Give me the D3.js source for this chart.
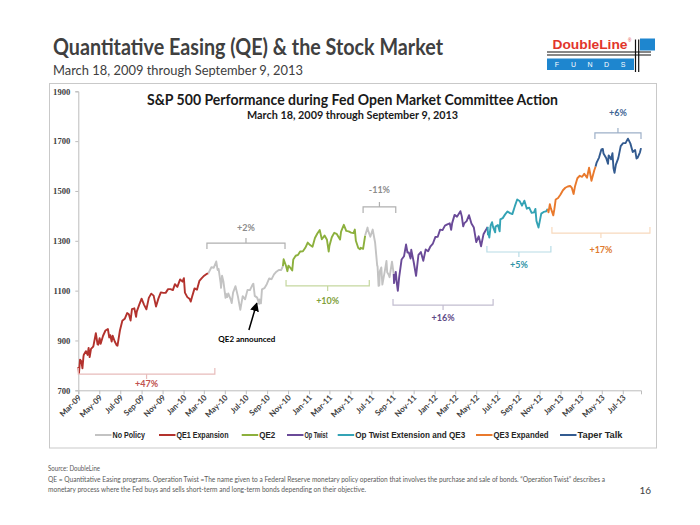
<!DOCTYPE html>
<html><head><meta charset="utf-8">
<script src="https://cdn.jsdelivr.net/npm/d3@7"></script>
<style>body{margin:0;background:#fff}svg{display:block}</style>
</head><body>
<svg id="c" width="700" height="525"></svg>
<script>
// ---------- DATA ----------
const seriesNames = ["No Policy","QE1 Expansion","QE2","Op Twist","Op Twist Extension and QE3","QE3 Expanded","Taper Talk"];
const seriesColors = ["#c3c3c3","#b3322d","#8cb03d","#6a4a98","#34a3b5","#e9792c","#335b90"];
const yTicks = [700,900,1100,1300,1500,1700,1900];
const xTickLabels = ["Mar-09","May-09","Jul-09","Sep-09","Nov-09","Jan-10","Mar-10","May-10","Jul-10","Sep-10","Nov-10","Jan-11","Mar-11","May-11","Jul-11","Sep-11","Nov-11","Jan-12","Mar-12","May-12","Jul-12","Sep-12","Nov-12","Jan-13","Mar-13","May-13","Jul-13"];

const qe1 = [["2009-03-18",794],["2009-03-20",769],["2009-03-23",823],["2009-03-27",816],["2009-03-30",788],["2009-04-02",835],["2009-04-03",843],["2009-04-09",857],["2009-04-14",842],["2009-04-17",870],["2009-04-20",833],["2009-04-24",866],["2009-04-29",873],["2009-05-01",878],["2009-05-08",929],["2009-05-13",884],["2009-05-15",883],["2009-05-19",909],["2009-05-22",887],["2009-05-29",919],["2009-06-05",940],["2009-06-12",946],["2009-06-16",912],["2009-06-19",921],["2009-06-23",896],["2009-06-26",919],["2009-07-02",896],["2009-07-08",880],["2009-07-10",879],["2009-07-17",940],["2009-07-24",979],["2009-07-31",987],["2009-08-07",1010],["2009-08-12",1005],["2009-08-17",980],["2009-08-21",1026],["2009-08-28",1029],["2009-09-02",995],["2009-09-04",1016],["2009-09-11",1043],["2009-09-18",1068],["2009-09-25",1044],["2009-10-02",1025],["2009-10-09",1071],["2009-10-16",1088],["2009-10-23",1080],["2009-10-30",1036],["2009-11-06",1069],["2009-11-13",1093],["2009-11-20",1091],["2009-11-27",1091],["2009-12-04",1106],["2009-12-11",1106],["2009-12-18",1102],["2009-12-24",1126],["2009-12-31",1115],["2010-01-08",1145],["2010-01-15",1136],["2010-01-19",1150],["2010-01-22",1092],["2010-01-29",1074],["2010-02-05",1066],["2010-02-08",1056],["2010-02-12",1076],["2010-02-19",1109],["2010-02-26",1104],["2010-03-05",1139],["2010-03-12",1150],["2010-03-19",1160],["2010-03-26",1167],["2010-03-31",1169]];
const noPolicy1 = [["2010-03-31",1169],["2010-04-09",1194],["2010-04-16",1192],["2010-04-23",1217],["2010-04-27",1183],["2010-04-30",1187],["2010-05-06",1128],["2010-05-07",1111],["2010-05-10",1160],["2010-05-14",1136],["2010-05-20",1071],["2010-05-21",1088],["2010-05-25",1074],["2010-05-28",1089],["2010-06-04",1065],["2010-06-07",1050],["2010-06-11",1092],["2010-06-18",1118],["2010-06-25",1077],["2010-07-02",1023],["2010-07-09",1078],["2010-07-16",1065],["2010-07-23",1103],["2010-07-30",1102],["2010-08-06",1122],["2010-08-09",1128],["2010-08-13",1079],["2010-08-20",1072],["2010-08-26",1047],["2010-08-27",1065],["2010-08-31",1049],["2010-09-03",1105],["2010-09-10",1110],["2010-09-17",1126],["2010-09-24",1149],["2010-10-01",1146],["2010-10-08",1165],["2010-10-15",1176],["2010-10-22",1183],["2010-10-29",1183],["2010-11-03",1198]];
const qe2 = [["2010-11-03",1198],["2010-11-05",1226],["2010-11-12",1199],["2010-11-16",1178],["2010-11-19",1200],["2010-11-26",1189],["2010-11-30",1181],["2010-12-03",1225],["2010-12-10",1240],["2010-12-17",1244],["2010-12-23",1257],["2010-12-31",1258],["2011-01-07",1272],["2011-01-14",1293],["2011-01-21",1283],["2011-01-28",1276],["2011-02-04",1311],["2011-02-11",1329],["2011-02-18",1343],["2011-02-24",1306],["2011-03-04",1321],["2011-03-11",1304],["2011-03-16",1257],["2011-03-18",1279],["2011-03-25",1314],["2011-04-01",1332],["2011-04-08",1328],["2011-04-18",1305],["2011-04-21",1337],["2011-04-29",1364],["2011-05-06",1340],["2011-05-13",1338],["2011-05-20",1333],["2011-05-27",1331],["2011-05-31",1345],["2011-06-03",1300],["2011-06-10",1271],["2011-06-15",1266],["2011-06-17",1272],["2011-06-24",1268],["2011-06-30",1321]];
const noPolicy2 = [["2011-06-30",1321],["2011-07-07",1353],["2011-07-08",1344],["2011-07-15",1316],["2011-07-22",1345],["2011-07-29",1292],["2011-08-04",1200],["2011-08-05",1199],["2011-08-08",1119],["2011-08-09",1172],["2011-08-10",1121],["2011-08-12",1179],["2011-08-16",1193],["2011-08-19",1124],["2011-08-26",1177],["2011-08-31",1219],["2011-09-02",1174],["2011-09-06",1165],["2011-09-09",1154],["2011-09-16",1216],["2011-09-21",1167]];
const opTwist = [["2011-09-21",1167],["2011-09-22",1130],["2011-09-27",1175],["2011-09-30",1131],["2011-10-03",1099],["2011-10-07",1155],["2011-10-14",1225],["2011-10-21",1238],["2011-10-27",1285],["2011-10-31",1253],["2011-11-04",1253],["2011-11-09",1229],["2011-11-11",1264],["2011-11-18",1216],["2011-11-25",1159],["2011-12-02",1244],["2011-12-09",1255],["2011-12-16",1220],["2011-12-23",1265],["2011-12-30",1258],["2012-01-06",1278],["2012-01-13",1289],["2012-01-20",1315],["2012-01-27",1316],["2012-02-03",1345],["2012-02-10",1343],["2012-02-17",1361],["2012-02-24",1366],["2012-03-02",1370],["2012-03-06",1344],["2012-03-09",1371],["2012-03-16",1404],["2012-03-23",1397],["2012-04-02",1419],["2012-04-06",1398],["2012-04-10",1358],["2012-04-13",1370],["2012-04-20",1379],["2012-04-27",1403],["2012-05-04",1369],["2012-05-11",1353],["2012-05-18",1295],["2012-05-25",1318],["2012-06-01",1278],["2012-06-08",1326],["2012-06-15",1343],["2012-06-20",1356]];
const opTwistExt = [["2012-06-20",1356],["2012-06-21",1325],["2012-06-22",1335],["2012-06-25",1313],["2012-06-29",1362],["2012-07-03",1375],["2012-07-06",1355],["2012-07-12",1334],["2012-07-13",1357],["2012-07-20",1363],["2012-07-25",1338],["2012-07-27",1386],["2012-08-03",1391],["2012-08-10",1406],["2012-08-17",1418],["2012-08-24",1411],["2012-08-31",1407],["2012-09-07",1438],["2012-09-14",1466],["2012-09-21",1460],["2012-09-28",1441],["2012-10-05",1461],["2012-10-12",1429],["2012-10-19",1433],["2012-10-26",1412],["2012-11-02",1414],["2012-11-06",1428],["2012-11-09",1380],["2012-11-15",1353],["2012-11-16",1360],["2012-11-23",1409],["2012-11-30",1416],["2012-12-07",1418],["2012-12-12",1428]];
const qe3Expanded = [["2012-12-12",1428],["2012-12-14",1414],["2012-12-18",1447],["2012-12-21",1430],["2012-12-28",1402],["2012-12-31",1426],["2013-01-04",1466],["2013-01-11",1472],["2013-01-18",1486],["2013-01-25",1503],["2013-02-01",1513],["2013-02-08",1518],["2013-02-15",1520],["2013-02-20",1512],["2013-02-25",1488],["2013-03-01",1518],["2013-03-08",1551],["2013-03-15",1561],["2013-03-22",1557],["2013-03-28",1569],["2013-04-05",1553],["2013-04-11",1593],["2013-04-18",1541],["2013-04-26",1582],["2013-04-30",1598]];
const taperTalk = [["2013-04-30",1598],["2013-05-03",1614],["2013-05-10",1634],["2013-05-17",1667],["2013-05-21",1669],["2013-05-23",1650],["2013-05-31",1631],["2013-06-05",1609],["2013-06-07",1643],["2013-06-14",1627],["2013-06-18",1652],["2013-06-21",1592],["2013-06-24",1573],["2013-06-28",1606],["2013-07-05",1632],["2013-07-12",1680],["2013-07-19",1692],["2013-07-26",1692],["2013-08-02",1710],["2013-08-09",1691],["2013-08-16",1656],["2013-08-23",1664],["2013-08-27",1630],["2013-08-30",1633],["2013-09-06",1655],["2013-09-09",1672]];

// segments: [data, series index]
const segments = [[qe1,1],[noPolicy1,0],[qe2,2],[noPolicy2,0],[opTwist,3],[opTwistExt,4],[qe3Expanded,5],[taperTalk,6]];

// period brackets: start, end, level (index value), label value, label, line colour, text colour, arm direction (+1 arms down)
const brackets = [
  ["2009-03-18","2010-04-19",765,727,"+47%","#e8bcbb","#c0504d",-1],
  ["2010-03-27","2010-11-09",1291,1351,"+2%","#b0b0b0","#8c8c8c",1],
  ["2010-11-12","2011-07-12",1119,1058,"+10%","#c5d79f","#7f9f3a",-1],
  ["2011-06-24","2011-09-27",1436,1504,"-11%","#b0b0b0","#8c8c8c",1],
  ["2011-09-19","2012-07-06",1042,990,"+16%","#c2bdd0","#5f4b87",-1],
  ["2012-06-18","2012-12-21",1255,1203,"+5%","#b8dce6","#2f93a6",-1],
  ["2012-12-24","2013-10-05",1331,1263,"+17%","#f8d9bd","#e07a2e",-1],
  ["2013-04-28","2013-09-09",1733,1813,"+6%","#9db0c8","#3f6595",1]
];
const arrowNote = {from:["2010-07-27",942], to:["2010-08-19",1050], label:"QE2 announced", labelAt:["2010-07-21",905]};

// ---------- DRAW ----------
const svg = d3.select("#c");
const parse = d3.timeParse("%Y-%m-%d");
const x = d3.scaleTime().domain([new Date(2009,2,18), new Date(2013,8,9)]).range([78.3, 641]);
const y = d3.scaleLinear().domain([700,1900]).range([390.3, 91.3]);
const sans = "Lato, 'Open Sans', sans-serif";

// header
svg.append("text").attr("x",53).attr("y",55).attr("font-family",sans).attr("font-weight",700)
  .attr("font-size",22).attr("fill","#404040").attr("textLength",390).attr("lengthAdjust","spacingAndGlyphs")
  .text("Quantitative Easing (QE) & the Stock Market");
svg.append("text").attr("x",53).attr("y",75).attr("font-family",sans)
  .attr("font-size",14).attr("fill","#404040").attr("textLength",250).attr("lengthAdjust","spacingAndGlyphs")
  .text("March 18, 2009 through September 9, 2013");

// logo
const logo = svg.append("g");
logo.append("rect").attr("x",640).attr("y",38.5).attr("width",15).attr("height",12).attr("fill","#1e86cf");
logo.append("rect").attr("x",547).attr("y",58.5).attr("width",87).attr("height",11.5).attr("fill","#1e86cf");
logo.append("text").attr("x",552.5).attr("y",48.5).attr("font-family","'Liberation Sans', Arial, sans-serif").attr("font-weight",700)
  .attr("font-size",13.5).attr("fill","#e2352b").attr("textLength",75).attr("lengthAdjust","spacingAndGlyphs").text("DoubleLine");
logo.append("text").attr("x",628).attr("y",41.5).attr("font-family","sans-serif").attr("font-size",4.5).attr("fill","#e2352b").text("®");
["F","U","N","D","S"].forEach((l,i)=>{
  logo.append("text").attr("x",557+i*16.5).attr("y",67).attr("text-anchor","middle").attr("font-family","'Liberation Sans', Arial, sans-serif")
    .attr("font-size",7).attr("fill","#ffffff").text(l);
});
logo.append("line").attr("x1",547).attr("x2",651).attr("y1",52).attr("y2",52).attr("stroke","#111").attr("stroke-width",1.2);
logo.append("line").attr("x1",547).attr("x2",651).attr("y1",55).attr("y2",55).attr("stroke","#111").attr("stroke-width",1.2);
logo.append("line").attr("x1",635.5).attr("x2",635.5).attr("y1",39.5).attr("y2",72).attr("stroke","#111").attr("stroke-width",1.2);
logo.append("line").attr("x1",638.7).attr("x2",638.7).attr("y1",39.5).attr("y2",72).attr("stroke","#111").attr("stroke-width",1.2);

// chart frame
svg.append("rect").attr("x",49.5).attr("y",83.5).attr("width",607).attr("height",364.5)
  .attr("fill","#fff").attr("stroke","#c9c9c9").attr("stroke-width",1);

// chart titles
svg.append("text").attr("x",352.5).attr("y",104.5).attr("text-anchor","middle").attr("font-family",sans).attr("font-weight",700)
  .attr("font-size",15.5).attr("fill","#1a1a1a").attr("textLength",411).attr("lengthAdjust","spacingAndGlyphs")
  .text("S&P 500 Performance during Fed Open Market Committee Action");
svg.append("text").attr("x",352.5).attr("y",118.5).attr("text-anchor","middle").attr("font-family",sans).attr("font-weight",700)
  .attr("font-size",11).attr("fill","#1a1a1a").attr("textLength",211).attr("lengthAdjust","spacingAndGlyphs")
  .text("March 18, 2009 through September 9, 2013");

// axes
const yAxis = svg.append("g").attr("transform","translate(78.3,0)")
  .call(d3.axisLeft(y).tickValues(yTicks).tickSize(3).tickPadding(5).tickFormat(d3.format("d")));
yAxis.select(".domain").attr("stroke","#bdbdbd");
yAxis.selectAll(".tick line").attr("stroke","#bdbdbd");
yAxis.selectAll(".tick text").attr("font-family","'Liberation Serif', 'DejaVu Serif', serif").attr("font-weight",700)
  .attr("font-size",8.6).attr("fill","#404040");

const fmt = d3.timeFormat("%b-%y");
const tickDates = xTickLabels.map(s => { const d = d3.timeParse("%b-%y")(s); d.setDate(18); return d; });
const xAxis = svg.append("g").attr("transform","translate(0,390.3)")
  .call(d3.axisBottom(x).tickValues(tickDates).tickSize(4).tickFormat(fmt));
xAxis.select(".domain").attr("stroke","#bdbdbd");
xAxis.selectAll(".tick line").attr("stroke","#bdbdbd");
xAxis.selectAll(".tick text").attr("font-family",sans).attr("font-weight",700).attr("font-size",8).attr("fill","#404040")
  .attr("text-anchor","end").attr("dy",0).attr("y",0).attr("transform","translate(3,8) rotate(-45)");

// lines
const line = d3.line().x(d=>x(parse(d[0]))).y(d=>y(d[1]));
svg.append("g").selectAll("path").data(segments).join("path")
  .attr("d",d=>line(d[0])).attr("fill","none").attr("stroke",d=>seriesColors[d[1]])
  .attr("stroke-width",1.9).attr("stroke-linejoin","round");

// brackets
const bg = svg.append("g");
brackets.forEach(b=>{
  const x1 = x(parse(b[0])), x2 = x(parse(b[1])), yl = y(b[2]), dir = b[7];
  const arm = 6, tk = 5, xc = (x1+x2)/2;
  bg.append("path").attr("d",`M${x1},${yl+dir*arm}L${x1},${yl}L${x2},${yl}L${x2},${yl+dir*arm}M${xc},${yl}L${xc},${yl-dir*tk}`)
    .attr("fill","none").attr("stroke",b[5]).attr("stroke-width",1.2);
  bg.append("text").attr("x",xc).attr("y",y(b[3])).attr("dy","0.35em").attr("text-anchor","middle")
    .attr("font-family",sans).attr("font-size",9).attr("font-weight",700).attr("fill",b[6]).text(b[4]);
});

// arrow
svg.append("defs").append("marker").attr("id","ah").attr("viewBox","0 0 10 10").attr("refX",9).attr("refY",5)
  .attr("markerWidth",6).attr("markerHeight",6).attr("orient","auto")
  .append("path").attr("d","M0,0L10,5L0,10Z").attr("fill","#000");
svg.append("line").attr("x1",x(parse(arrowNote.from[0]))).attr("y1",y(arrowNote.from[1]))
  .attr("x2",x(parse(arrowNote.to[0]))).attr("y2",y(arrowNote.to[1])).attr("stroke","#000").attr("stroke-width",1.5).attr("marker-end","url(#ah)");
svg.append("text").attr("x",x(parse(arrowNote.labelAt[0]))).attr("y",y(arrowNote.labelAt[1])).attr("dy","0.35em").attr("text-anchor","middle")
  .attr("font-family",sans).attr("font-weight",700).attr("font-size",8).attr("fill","#000").text(arrowNote.label);

// legend
const legX = [95,159,241.7,287,337.7,476,560];
const legW = [32.5,52,16,23,110,55,45];
const lg = svg.append("g");
seriesNames.forEach((n,i)=>{
  lg.append("line").attr("x1",legX[i]).attr("x2",legX[i]+16.5).attr("y1",435).attr("y2",435).attr("stroke",seriesColors[i]).attr("stroke-width",2);
  lg.append("text").attr("x",legX[i]+17.5).attr("y",435).attr("dy","0.35em").attr("font-family","'Liberation Sans Narrow', 'Liberation Sans', sans-serif")
    .attr("font-weight",700).attr("font-size",8.5).attr("fill","#262626").attr("textLength",legW[i]).attr("lengthAdjust","spacingAndGlyphs").text(n);
});

// footer
const foot = [["Source: DoubleLine",471,52],
  ["QE = Quantitative Easing programs. Operation Twist =The name given to a Federal Reserve monetary policy operation that involves the purchase and sale of bonds. \u201cOperation Twist\u201d describes a",482,557],
  ["monetary process where the Fed buys and sells short-term and long-term bonds depending on their objective.",492,318]];
foot.forEach(f=>{
  svg.append("text").attr("x",48).attr("y",f[1]).attr("font-family",sans).attr("font-size",6.8).attr("fill","#595959")
    .attr("textLength",f[2]).attr("lengthAdjust","spacingAndGlyphs").text(f[0]);
});
svg.append("text").attr("x",651).attr("y",494).attr("text-anchor","end").attr("font-family",sans).attr("font-size",10).attr("fill","#404040").text("16");
</script>
</body></html>
